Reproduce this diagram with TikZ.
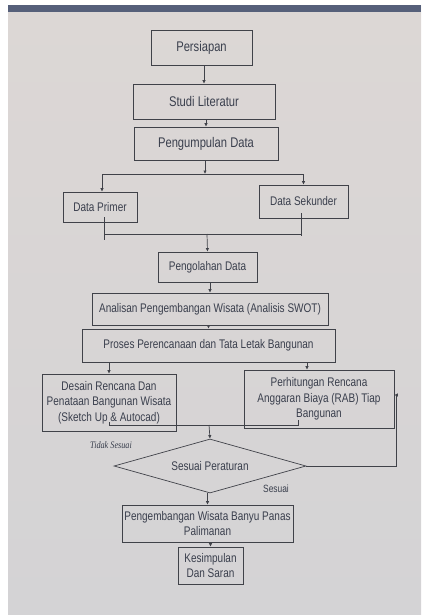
\documentclass[tikz,border=0pt]{standalone}
\usepackage{fontspec}
\setmainfont{Liberation Sans}[FakeStretch=0.8]
\newfontfamily\serifit{Liberation Serif}[FakeStretch=0.82]
\usetikzlibrary{arrows.meta,shapes.geometric}

\definecolor{kertas}{HTML}{DCD7D5}
\definecolor{kertasb}{HTML}{D4D3D5}
\definecolor{tinta}{HTML}{3A3F4D}
\definecolor{garis}{HTML}{404249}
\definecolor{pita}{HTML}{56607A}

\tikzset{
  kotak/.style={draw=garis, line width=0.7pt, text=tinta, align=center,
    inner sep=2pt, font=\fontsize{12.5}{15.5}\selectfont},
  besar/.style={font=\fontsize{14}{16}\selectfont},
  panah/.style={draw=garis, line width=0.7pt, -{Latex[length=3.5pt,width=3.5pt]}},
  sambung/.style={draw=garis, line width=0.7pt}
}

\begin{document}
\begin{tikzpicture}[x=1pt, y=-1pt]
    \useasboundingbox (0,0) rectangle (421,615);
    % latar kertas
    \fill[white] (0,0) rectangle (421,615);
    \shade[top color=kertas, bottom color=kertasb] (8,6) rectangle (421,615);
    \fill[pita] (8,5) rectangle (421,12);

    % Kotak: nama/posisi/ukuran
    \node[kotak, besar, minimum width=101pt, minimum height=35pt] (persiapan) at (201.5,47.5) {Persiapan};
    \node[kotak, besar, minimum width=142pt, minimum height=35pt] (studi) at (204,101.5) {Studi Literatur};
    \node[kotak, besar, minimum width=144pt, minimum height=33pt] (kumpul) at (206,143.5) {Pengumpulan Data};
    \node[kotak, minimum width=74pt, minimum height=30pt] (primer) at (100,207) {Data Primer};
    \node[kotak, minimum width=89pt, minimum height=33pt] (sekunder) at (303.5,201.5) {Data Sekunder};
    \node[kotak, minimum width=99pt, minimum height=30pt] (olah) at (207.5,267) {Pengolahan Data};
    \node[kotak, minimum width=236pt, minimum height=32pt] (analisa) at (210,309) {Analisan Pengembangan Wisata (Analisis SWOT)};
    \node[kotak, minimum width=253pt, minimum height=33pt] (proses) at (208.5,345.5) {Proses Perencanaan dan Tata Letak Bangunan};
    \node[kotak, minimum width=134pt, minimum height=57pt] (desain) at (109,402.5) {Desain Rencana Dan\\Penataan Bangunan Wisata\\(Sketch Up \& Autocad)};
    \node[kotak, minimum width=150pt, minimum height=58pt] (hitung) at (319,399) {Perhitungan Rencana\\Anggaran Biaya (RAB) Tiap\\Bangunan};
    \node[kotak, diamond, aspect=3.55, minimum width=192pt, minimum height=54pt, inner sep=0pt] (cek) at (210,466) {Sesuai Peraturan};
    \node[kotak, minimum width=171pt, minimum height=37pt] (kembang) at (207.5,523.5) {Pengembangan Wisata Banyu Panas\\Palimanan};
    \node[kotak, minimum width=65pt, minimum height=37pt] (simpul) at (210.5,565.5) {Kesimpulan\\Dan Saran};

    % label keputusan
    \node[text=tinta, font=\serifit\itshape\fontsize{10}{11}\selectfont] (tidak) at (111,445) {Tidak Sesuai};
    \node[text=tinta, font=\fontsize{10.5}{11}\selectfont] (sesuai) at (276,489) {Sesuai};

    % alur lurus
    \foreach \a/\b in {persiapan/studi, studi/kumpul, olah/analisa, analisa/proses, cek/kembang, kembang/simpul}
        \draw[panah] (\b.north |- \a.south) -- (\b.north);

    % cabang data
    \coordinate (cabang) at (205,174);
    \draw[panah] (kumpul.south -| cabang) -- (cabang);
    \draw[panah] (cabang) -| ([xshift=2pt]primer.north);
    \draw[panah] (cabang) -| (sekunder.north);
    \coordinate (gabung1) at (207,234);
    \draw[sambung] ([xshift=4pt,yshift=5pt]primer.south) -- ++(0,23);
    \draw[sambung] ([xshift=-2pt,yshift=5pt]sekunder.south) -- ++(0,23);
    \draw[sambung] ([xshift=4pt]primer.south |- gabung1) -- ([xshift=-2pt]sekunder.south |- gabung1);
    \draw[panah] (gabung1) -- (olah.north);

    % perencanaan
    \draw[panah] (desain.north |- proses.south) -- (desain.north);
    \draw[panah] ([xshift=-12pt]hitung.north |- proses.south) -- ([xshift=-12pt]hitung.north);
    \coordinate (gabung2) at (209,425);
    \draw[sambung] ([yshift=9pt]desain.south) |- (gabung2);
    \draw[sambung] ([xshift=-21pt,yshift=8pt]hitung.south) |- (gabung2);
    \draw[panah] (gabung2) -- (cek.north);

    % umpan balik
    \draw[panah] (cek.east) -- ++(90,0) |- ([yshift=4pt]hitung.east);
\end{tikzpicture}
\end{document}
